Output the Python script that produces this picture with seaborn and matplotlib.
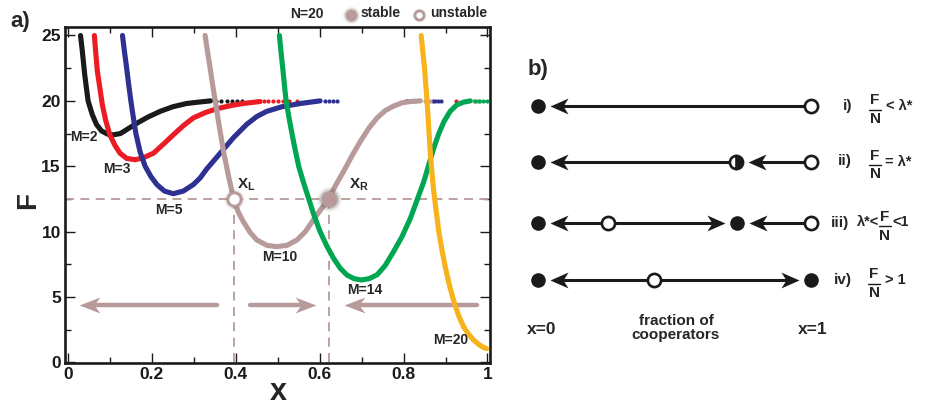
import numpy as np
import pandas as pd
import matplotlib
matplotlib.use("Agg")
import matplotlib.pyplot as plt
import seaborn as sns
from matplotlib.path import Path

# ---------------- data ----------------
m2_x = [0.030, 0.034, 0.040, 0.048, 0.058, 0.068, 0.080, 0.095, 0.108, 0.125, 0.145, 0.165, 0.19, 0.22, 0.25, 0.283, 0.31, 0.34]
m2_F = [25.0, 23.9, 22.0, 20.0, 18.95, 18.2, 17.7, 17.45, 17.4, 17.5, 17.9, 18.3, 18.75, 19.2, 19.55, 19.8, 19.9, 20.0]

m3_x = [0.063, 0.066, 0.070, 0.076, 0.082, 0.090, 0.100, 0.112, 0.124, 0.140, 0.160, 0.180, 0.204, 0.228, 0.251, 0.275, 0.299, 0.327, 0.355, 0.39, 0.418, 0.458]
m3_F = [25.0, 23.8, 22.3, 21.0, 19.7, 18.5, 17.4, 16.6, 16.0, 15.6, 15.5, 15.65, 16.0, 16.7, 17.4, 18.1, 18.7, 19.1, 19.4, 19.65, 19.8, 19.95]

m5_x = [0.130, 0.135, 0.140, 0.145, 0.150, 0.156, 0.162, 0.172, 0.184, 0.198, 0.212, 0.230, 0.251, 0.275, 0.299, 0.315, 0.331, 0.355, 0.379, 0.395, 0.426, 0.45, 0.474, 0.51, 0.554, 0.601]
m5_F = [25.0, 23.7, 22.5, 21.2, 20.0, 18.7, 17.5, 16.1, 15.0, 14.2, 13.6, 13.1, 12.9, 13.1, 13.6, 14.1, 14.8, 15.7, 16.6, 17.2, 18.2, 18.8, 19.2, 19.55, 19.8, 20.0]

m10_x = [0.327, 0.333, 0.339, 0.345, 0.351, 0.361, 0.371, 0.383, 0.395, 0.406, 0.418, 0.434, 0.450, 0.474, 0.498, 0.522, 0.546, 0.566, 0.585, 0.603, 0.621, 0.639, 0.657, 0.677, 0.697, 0.717, 0.737, 0.756, 0.776, 0.796, 0.816, 0.84]
m10_F = [25.0, 23.7, 22.5, 21.2, 20.0, 18.0, 16.1, 14.2, 12.5, 11.5, 10.76, 9.95, 9.36, 8.95, 8.85, 8.95, 9.36, 10.0, 10.9, 11.7, 12.5, 13.6, 14.6, 15.8, 16.9, 17.9, 18.7, 19.25, 19.6, 19.85, 19.95, 20.0]

m14_x = [0.504, 0.508, 0.512, 0.516, 0.520, 0.527, 0.534, 0.542, 0.550, 0.562, 0.574, 0.587, 0.601, 0.617, 0.633, 0.649, 0.665, 0.682, 0.699, 0.718, 0.737, 0.756, 0.776, 0.796, 0.816, 0.832, 0.848, 0.860, 0.872, 0.884, 0.896, 0.911, 0.927, 0.943, 0.959]
m14_F = [25.0, 23.7, 22.5, 21.2, 20.0, 18.7, 17.5, 16.2, 15.0, 13.7, 12.5, 11.2, 10.0, 8.9, 7.96, 7.2, 6.68, 6.4, 6.30, 6.4, 6.7, 7.4, 8.46, 9.6, 11.0, 12.4, 13.8, 15.1, 16.4, 17.5, 18.4, 19.2, 19.7, 19.9, 20.0]

m20_x = [0.842, 0.846, 0.850, 0.853, 0.856, 0.860, 0.864, 0.868, 0.872, 0.878, 0.884, 0.892, 0.900, 0.910, 0.920, 0.931, 0.943, 0.955, 0.967, 0.980, 0.990, 0.998]
m20_F = [25.0, 23.7, 22.5, 21.2, 20.0, 17.9, 15.9, 14.4, 13.05, 11.5, 10.0, 8.5, 7.19, 5.8, 4.64, 3.6, 2.72, 2.15, 1.7, 1.35, 1.15, 1.05]

# sparse dots on the F = N plateau
m2_dots = [0.352, 0.366, 0.379, 0.392, 0.404, 0.416, 0.808]
m3_dots = [0.468, 0.478, 0.488, 0.500, 0.512, 0.527, 0.545, 0.805, 0.924]
m5_dots = [0.612, 0.622, 0.632, 0.642, 0.869, 0.876, 0.883, 0.890]
m10_dots = [0.852, 0.858, 0.864, 0.968, 0.975, 0.982]
m14_dots = [0.970, 0.980, 0.990, 0.999]
plateau_F = 20.0

curve_names = ["M=2", "M=3", "M=5", "M=10", "M=14", "M=20"]
curve_colors = ["#1a1a1a", "#ec1c24", "#2e3192", "#b89a9a", "#00a651", "#f8b21c"]

F_level = 12.5
x_L, x_R = 0.395, 0.622

# flow arrows along x (start, tip) at F level
arrow_start = [0.356, 0.434, 0.974]
arrow_tip = [0.026, 0.592, 0.659]
arrow_F = 4.35

# curve labels: (x, F)
label_x = [0.005, 0.084, 0.208, 0.463, 0.666, 0.871]
label_F = [17.2, 14.8, 11.65, 8.05, 5.5, 1.7]

# panel b rows
rows_y = [106, 161.5, 222.5, 280]
rows_stable = [[0.0], [0.0], [0.0, 0.729], [0.0, 1.0]]
rows_unstable = [[1.0], [1.0], [0.256, 1.0], [0.425]]
rows_half = [[], [0.725], [], []]
rows_arrows = [[(1.0, 0.0)], [(0.725, 0.0), (1.0, 0.725)],
               [(0.256, 0.0), (0.256, 0.729), (1.0, 0.729)],
               [(0.425, 0.0), (0.425, 1.0)]]
row_prefix = ["i)", "ii)", "iii)", "iv)"]
row_prefix_px = [843, 838, 831, 834]
row_mid = ["", "", "λ*<", ""]
row_mid_px = [0, 0, 857, 0]
row_frac_px = [875, 875, 885, 874]
row_suffix = ["< λ*", "= λ*", "<1", "> 1"]
row_suffix_px = [886, 885, 892, 885]

# ---------------- style ----------------
sns.set_style("ticks")
plt.rcParams["font.family"] = ["Liberation Sans", "DejaVu Sans"]
plt.rcParams["font.weight"] = "bold"
plt.rcParams["mathtext.fontset"] = "custom"
plt.rcParams["mathtext.rm"] = "Liberation Sans:bold"
plt.rcParams["mathtext.it"] = "Liberation Sans:bold"
plt.rcParams["mathtext.bf"] = "Liberation Sans:bold"
plt.rcParams["mathtext.sf"] = "Liberation Sans:bold"

W, H = 936, 407
fig = plt.figure(figsize=(W / 100, H / 100), dpi=100)
ax = fig.add_axes([65 / W, 1 - 363 / H, 425 / W, 336 / H])

mauve = "#b89a9a"

# dashed guides
ax.axhline(F_level, color=mauve, lw=1.3, ls=(0, (5, 3.5)), zorder=1)
for xv in (x_L, x_R):
    ax.plot([xv, xv], [0, F_level], color=mauve, lw=1.3, ls=(0, (5, 3.5)), zorder=1)

# arrows (panel a)
def head_path(direction, hw):
    d = 1 if direction > 0 else -1
    verts = [(0, 0), (-d * 1.0, hw), (-d * 0.72, 0), (-d * 1.0, -hw), (0, 0)]
    codes = [Path.MOVETO, Path.LINETO, Path.LINETO, Path.LINETO, Path.CLOSEPOLY]
    return Path(verts, codes)

for s, t in zip(arrow_start, arrow_tip):
    d = 1 if t > s else -1
    ax.plot([s, t - d * 0.03], [arrow_F, arrow_F], color=mauve, lw=3.2,
            solid_capstyle="round", zorder=2)
    ax.plot([t], [arrow_F], marker=head_path(d, 0.38), ms=30, color=mauve,
            mec=mauve, mew=0, zorder=2)

# curves
curves = [(m2_x, m2_F), (m3_x, m3_F), (m5_x, m5_F), (m10_x, m10_F), (m14_x, m14_F), (m20_x, m20_F)]
dots = [m2_dots, m3_dots, m5_dots, m10_dots, m14_dots, []]
for i, ((cx, cF), col) in enumerate(zip(curves, curve_colors)):
    df = pd.DataFrame({"x": cx, "F": cF})
    sns.lineplot(data=df, x="x", y="F", ax=ax, color=col, linewidth=3.7,
                 sort=False, estimator=None, solid_capstyle="round",
                 solid_joinstyle="round", zorder=3 + i)
    if dots[i]:
        sns.scatterplot(x=dots[i], y=[plateau_F] * len(dots[i]), ax=ax, color=col,
                        s=9, linewidth=0, zorder=3 + i)

for name, lx, lF in zip(curve_names, label_x, label_F):
    ax.text(lx, lF, name, fontsize=10, fontweight="bold", ha="left", va="center", zorder=20)

# fixed points with soft shadow
def shadowed(axh, x, y, ms, filled, z=15):
    for k, a in [(1.55, 0.07), (1.35, 0.12), (1.18, 0.2)]:
        axh.plot([x], [y], "o", ms=ms * k, color="#5a5050", alpha=a, mew=0, zorder=z)
    if filled:
        axh.plot([x], [y], "o", ms=ms, color=mauve, mew=0, zorder=z + 1)
    else:
        axh.plot([x], [y], "o", ms=ms, mfc="white", mec=mauve, mew=2.0, zorder=z + 1)

shadowed(ax, x_L, F_level, 9.5, False)
shadowed(ax, x_R, F_level, 11.5, True)
ax.text(0.403, 13.6, r"$\mathregular{X_L}$", fontsize=11, ha="left", va="center", zorder=20)
ax.text(0.669, 13.6, r"$\mathregular{X_R}$", fontsize=11, ha="left", va="center", zorder=20)

# axes styling
ax.set_xlim(-0.007, 1.006)
ax.set_ylim(-0.05, 25.65)
ax.set_xticks([0, 0.2, 0.4, 0.6, 0.8, 1.0])
ax.set_xticklabels(["0", "0.2", "0.4", "0.6", "0.8", "1"])
ax.set_xticks(np.arange(0.1, 1.0, 0.2), minor=True)
ax.set_yticks([0, 5, 10, 15, 20, 25])
ax.set_yticks(np.arange(2.5, 25, 5), minor=True)
ax.tick_params(which="both", direction="in", top=True, right=True, width=1.0,
               labelsize=12.5, pad=3, colors="#1a1a1a")
ax.tick_params(which="major", length=7)
ax.tick_params(which="minor", length=4.5)
for lab in ax.get_xticklabels() + ax.get_yticklabels():
    lab.set_fontweight("bold")
for sp in ax.spines.values():
    sp.set_linewidth(1.9)
    sp.set_color("#1a1a1a")
ax.set_xlabel("")
ax.set_ylabel("")
ax.text(-0.087, 0.485, "F", transform=ax.transAxes, fontsize=20, fontweight="bold",
        rotation=90, ha="center", va="center")
ax.text(0.501, -0.085, "x", transform=ax.transAxes, fontsize=22, fontweight="bold",
        ha="center", va="center")

# header
fig.text(10 / W, 1 - 22 / H, "a)", fontsize=16, fontweight="bold", ha="left", va="center")
fig.text(290 / W, 1 - 14 / H, "N=20", fontsize=10, fontweight="bold", ha="left", va="center")
fig.text(361 / W, 1 - 13 / H, "stable", fontsize=10, fontweight="bold", ha="left", va="center")
fig.text(430 / W, 1 - 13 / H, "unstable", fontsize=10, fontweight="bold", ha="left", va="center")
hdr = fig.add_axes([0, 0, 1, 1], facecolor="none")
hdr.set_xlim(0, W)
hdr.set_ylim(H, 0)
hdr.axis("off")
shadowed(hdr, 351, 15, 8, True)
shadowed(hdr, 419, 15, 6.5, False)

# ---------------- panel b ----------------
bx = fig.add_axes([500 / W, 0, 436 / W, 1], facecolor="none")
px0, px1 = 538, 811
scale = px1 - px0
bx.set_xlim((500 - px0) / scale, (936 - px0) / scale)
bx.set_ylim(H, 0)
bx.axis("off")

def bxp(px):
    return (px - px0) / scale

tip_off = 0.044
for y, st, un, hf, arrs in zip(rows_y, rows_stable, rows_unstable, rows_half, rows_arrows):
    for s, t in arrs:
        d = 1 if t > s else -1
        tip = t - d * tip_off
        bx.plot([s, tip - d * 0.035], [y, y], color="#1a1a1a", lw=2.2, zorder=2)
        bx.plot([tip], [y], marker=head_path(d, 0.44), ms=26, color="#1a1a1a", mew=0, zorder=3)
    for xv in st:
        bx.plot([xv], [y], "o", ms=10.5, color="#1a1a1a", mew=0, zorder=5)
    for xv in un:
        bx.plot([xv], [y], "o", ms=9.5, mfc="white", mec="#1a1a1a", mew=1.9, zorder=5)
    for xv in hf:
        bx.plot([xv], [y], "o", ms=9.5, mfc="#1a1a1a", mfcalt="white", fillstyle="right",
                mec="#1a1a1a", mew=1.9, zorder=5)

for y, pre, prp, mid, mdp, frp, suf, sfp in zip(rows_y, row_prefix, row_prefix_px, row_mid,
                                                row_mid_px, row_frac_px, row_suffix, row_suffix_px):
    bx.text(bxp(prp), y, pre, fontsize=11, fontweight="bold", ha="left", va="center")
    if mid:
        bx.text(bxp(mdp), y, mid, fontsize=10.5, fontweight="bold", ha="left", va="center")
    fy = y + 3.5
    bx.text(bxp(frp), fy - 9, "F", fontsize=11, fontweight="bold", ha="center", va="center")
    bx.text(bxp(frp), fy + 9.5, "N", fontsize=11, fontweight="bold", ha="center", va="center")
    bx.plot([bxp(frp - 6), bxp(frp + 6)], [fy, fy], color="#1a1a1a", lw=1.0)
    bx.text(bxp(sfp), y, suf, fontsize=10.5, fontweight="bold", ha="left", va="center")

fig.text(528 / W, 1 - 70 / H, "b)", fontsize=16, fontweight="bold", ha="left", va="center")
bx.text(bxp(542), 329, "x=0", fontsize=12.5, fontweight="bold", ha="center", va="center")
bx.text(bxp(813), 329, "x=1", fontsize=12.5, fontweight="bold", ha="center", va="center")
bx.text(bxp(676), 328, "fraction of\ncooperators", fontsize=11, fontweight="bold",
        ha="center", va="center", linespacing=1.05)

fig.savefig("out.png", dpi=100)
